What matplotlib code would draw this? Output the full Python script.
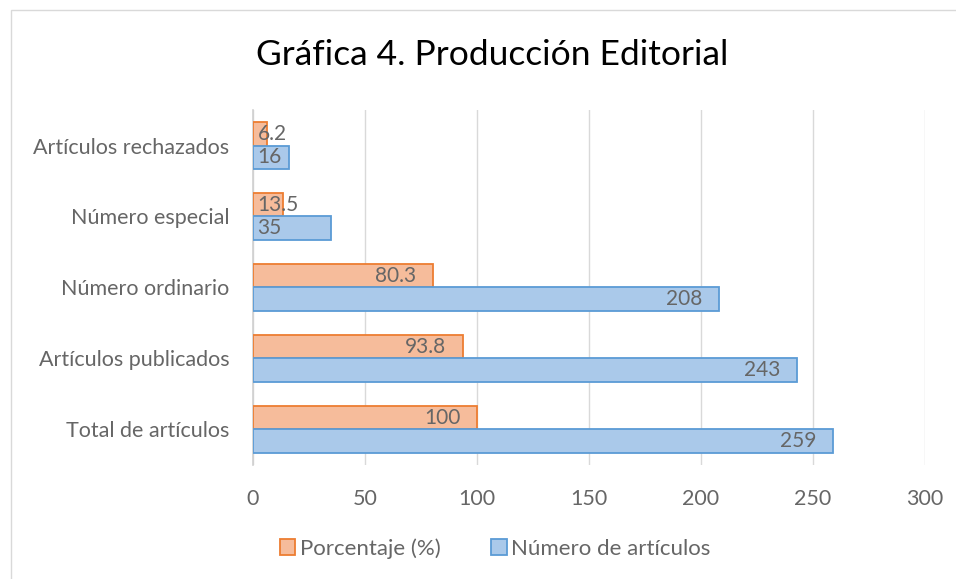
import matplotlib.pyplot as plt
import numpy as np
from matplotlib.patches import Rectangle, Patch

categorias = ["Total de artículos", "Artículos publicados", "Número ordinario",
              "Número especial", "Artículos rechazados"]
porcentaje = [100, 93.8, 80.3, 13.5, 6.2]
numero = [259, 243, 208, 35, 16]
etiquetas_pct = ["100", "93.8", "80.3", "13.5", "6.2"]
etiquetas_num = ["259", "243", "208", "35", "16"]

plt.rcParams['font.family'] = ['Lato', 'DejaVu Sans']
gris = '#666666'

fig = plt.figure(figsize=(9.56, 5.79), dpi=100)
ax = fig.add_axes([0.2646, 0.197, 0.703, 0.613])

y = np.arange(len(categorias))
h = 0.33
b1 = ax.barh(y + h / 2, porcentaje, height=h, color='#f6bc9b', edgecolor='#ed7d31',
             linewidth=1.3, label='Porcentaje (%)', zorder=3)
b2 = ax.barh(y - h / 2, numero, height=h, color='#aac9ea', edgecolor='#5b9bd5',
             linewidth=1.3, label='Número de artículos', zorder=3)

# etiquetas dentro del extremo de la barra
for bars, labs in ((b1, etiquetas_pct), (b2, etiquetas_num)):
    for bar, lab in zip(bars, labs):
        w = bar.get_width()
        yc = bar.get_y() + bar.get_height() / 2
        if w > 40:
            ax.text(w - 7.5, yc, lab, ha='right', va='center', fontsize=15, color=gris, zorder=4)
        else:
            ax.text(2, yc, lab, ha='left', va='center', fontsize=15, color=gris, zorder=4)

ax.set_xlim(0, 300)
ax.set_ylim(-0.5, 4.5)
ax.set_xticks(range(0, 301, 50))
ax.set_yticks(y)
ax.set_yticklabels(categorias)
ax.tick_params(length=0, labelsize=15.5, labelcolor=gris)
ax.tick_params(axis='y', pad=17)
ax.tick_params(axis='x', pad=17)
ax.grid(axis='x', color='#d9d9d9', linewidth=1, zorder=0)
for s in ['top', 'right', 'bottom']:
    ax.spines[s].set_visible(False)
ax.spines['left'].set_color('#d0d0d0')
ax.spines['left'].set_linewidth(1.2)

fig.text(0.515, 0.905, "Gráfica 4. Producción Editorial", ha='center', va='center',
         fontsize=25.5, color='black')

handles = [Patch(facecolor='#f6bc9b', edgecolor='#ed7d31', linewidth=1.3),
           Patch(facecolor='#aac9ea', edgecolor='#5b9bd5', linewidth=1.3)]
fig.legend(handles, ['Porcentaje (%)', 'Número de artículos'], loc='center',
           bbox_to_anchor=(0.518, 0.053), ncol=2, frameon=False, fontsize=16,
           labelcolor=gris, handlelength=0.7, handleheight=0.7, handletextpad=0.2,
           columnspacing=2.3)

# borde del área del gráfico
fig.patches.append(Rectangle((0.011, -0.02), 0.99, 1.003, transform=fig.transFigure,
                             fill=False, edgecolor='#d9d9d9', linewidth=1))

fig.savefig('out.png', dpi=100)
